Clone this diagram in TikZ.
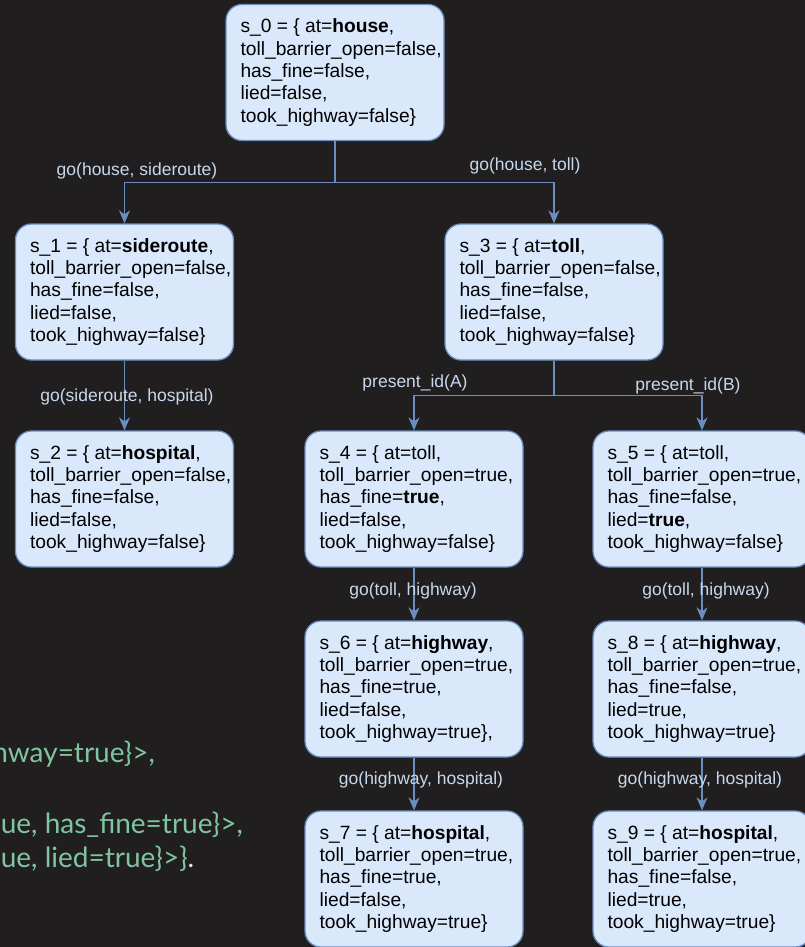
\documentclass[tikz,border=0pt]{standalone}
\usepackage{fontspec}
\setmainfont{Liberation Sans}
\newfontfamily\latofont{Lato}
\usetikzlibrary{arrows.meta,calc}
\definecolor{bg}{HTML}{211E20}
\definecolor{nodefill}{HTML}{DAE8FC}
\definecolor{nodeline}{HTML}{6C8EBF}
\definecolor{edgecol}{HTML}{6C8EBF}
\definecolor{lblcol}{HTML}{C8D8EC}
\definecolor{greentxt}{HTML}{7EC5A0}
\definecolor{dotcol}{HTML}{E6E6E6}
\tikzset{
  stbox/.style={draw=nodeline, fill=nodefill, line width=1.3pt, rounded corners=16pt,
    minimum width=218pt, minimum height=136pt, inner sep=0pt},
  sttext/.style={align=left, inner sep=0pt, text=black, font=\fontsize{19.2}{22.4}\selectfont},
  edge/.style={draw=edgecol, line width=1.3pt, -{Stealth[length=13pt,width=11pt,inset=4pt]}},
  elabel/.style={text=lblcol, inner sep=0pt, font=\fontsize{17.5}{20}\selectfont},
  gtext/.style={text=greentxt, inner sep=0pt, font=\latofont\fontsize{28}{34}\selectfont},
}
\newcommand{\statenode}[4]{%
  \node[stbox] (#1) at (#2,#3) {};
  \node[sttext, anchor=west] (#1t) at ([xshift=15pt]#1.west) {#4};
}
\begin{document}
\begin{tikzpicture}[x=1pt,y=-1pt]
\fill[bg] (0,0) rectangle (805,947);
\useasboundingbox (0,0) rectangle (805,947);

% green text (partly cut off)
\node[gtext, anchor=base east] (g1) at (155,762) {hway=true\}>,};
\node[gtext, anchor=base east] (g2) at (243,833) {ue, has\_fine=true\}>,};
\node[gtext, anchor=base west] (g3) at ($(g2.base west)+(0,34)$) {ue, lied=true\}>\}{\color{dotcol}.}};

% states
\statenode{s0}{335}{72.5}{s\_0 = \{ at=\textbf{house},\\toll\_barrier\_open=false,\\has\_fine=false,\\lied=false,\\took\_highway=false\}}
\statenode{s1}{124.5}{292}{s\_1 = \{ at=\textbf{sideroute},\\toll\_barrier\_open=false,\\has\_fine=false,\\lied=false,\\took\_highway=false\}}
\statenode{s3}{554}{292}{s\_3 = \{ at=\textbf{toll},\\toll\_barrier\_open=false,\\has\_fine=false,\\lied=false,\\took\_highway=false\}}
\statenode{s2}{124.5}{499}{s\_2 = \{ at=\textbf{hospital},\\toll\_barrier\_open=false,\\has\_fine=false,\\lied=false,\\took\_highway=false\}}
\statenode{s4}{414}{499}{s\_4 = \{ at=toll,\\toll\_barrier\_open=true,\\has\_fine=\textbf{true},\\lied=false,\\took\_highway=false\}}
\statenode{s5}{702}{499}{s\_5 = \{ at=toll,\\toll\_barrier\_open=true,\\has\_fine=false,\\lied=\textbf{true},\\took\_highway=false\}}
\statenode{s6}{414}{689}{s\_6 = \{ at=\textbf{highway},\\toll\_barrier\_open=true,\\has\_fine=true,\\lied=false,\\took\_highway=true\},}
\statenode{s8}{702}{689}{s\_8 = \{ at=\textbf{highway},\\toll\_barrier\_open=true,\\has\_fine=false,\\lied=true,\\took\_highway=true\}}
\statenode{s7}{414}{879}{s\_7 = \{ at=\textbf{hospital},\\toll\_barrier\_open=true,\\has\_fine=true,\\lied=false,\\took\_highway=true\}}
\statenode{s9}{702}{879}{s\_9 = \{ at=\textbf{hospital},\\toll\_barrier\_open=true,\\has\_fine=false,\\lied=true,\\took\_highway=true\}}

% edges
\draw[edge] (s0.south) -- ++(0,41) -| (s1.north);
\draw[edge] (s0.south) -- ++(0,41) -| (s3.north);
\draw[edge] (s1) -- (s2);
\draw[edge] (s3.south) -- ++(0,35) -| (s4.north);
\draw[edge] (s3.south) -- ++(0,35) -| (s5.north);
\draw[edge] (s4) -- (s6);
\draw[edge] (s6) -- (s7);
\draw[edge] (s5) -- (s8);
\draw[edge] (s8) -- (s9);

% edge labels
\node[elabel] (l01) at (137,171) {go(house, sideroute)};
\node[elabel] (l03) at (525,166) {go(house, toll)};
\node[elabel] (l12) at (127,397) {go(sideroute, hospital)};
\node[elabel] (l34) at (415,383) {present\_id(A)};
\node[elabel] (l35) at (688,386) {present\_id(B)};
\node[elabel] (l46) at (413,591) {go(toll, highway)};
\node[elabel] (l58) at (706,591) {go(toll, highway)};
\node[elabel] (l67) at (421,780) {go(highway, hospital)};
\node[elabel] (l89) at (700,780) {go(highway, hospital)};
\end{tikzpicture}
\end{document}
